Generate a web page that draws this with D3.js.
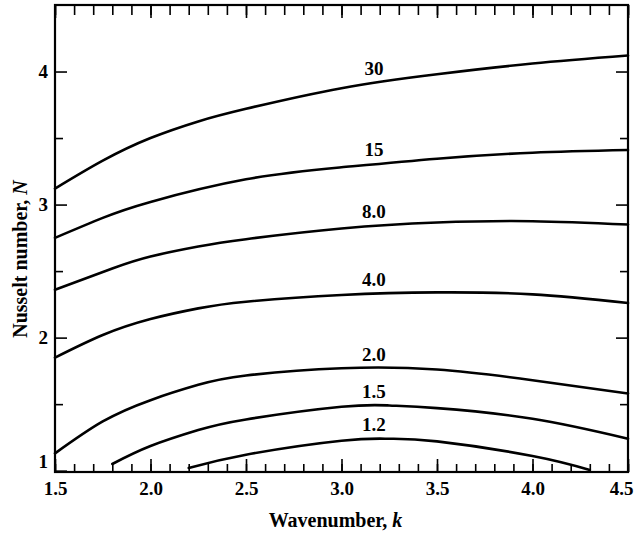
<!DOCTYPE html>
<html>
<head>
<meta charset="utf-8">
<script src="https://cdn.jsdelivr.net/npm/d3@7"></script>
<style>
  body { margin: 0; background: #fff; }
  svg text { font-family: "Liberation Serif", "DejaVu Serif", serif; fill: #000; }
  .axis path { display: none; }
  .axis line { stroke: #000; stroke-width: 1.6; }
</style>
</head>
<body>
<div id="chart"></div>
<script>
// curve labels (parameter values written on each curve)
const curveLabels = ["30", "15", "8.0", "4.0", "2.0", "1.5", "1.2"];

// wavenumber k and Nusselt number N
const k30 = [1.5, 1.75, 2.0, 2.25, 2.5, 3.0, 3.5, 4.0, 4.5];
const n30 = [3.12, 3.33, 3.50, 3.625, 3.72, 3.875, 3.98, 4.06, 4.12];

const k15 = [1.5, 1.75, 2.0, 2.5, 3.0, 3.5, 4.0, 4.5];
const n15 = [2.75, 2.90, 3.02, 3.19, 3.28, 3.345, 3.39, 3.41];

const k8 = [1.5, 1.8, 2.0, 2.25, 2.5, 3.0, 3.5, 4.0, 4.5];
const n8 = [2.36, 2.52, 2.61, 2.685, 2.74, 2.82, 2.865, 2.875, 2.85];

const k4 = [1.5, 1.75, 2.0, 2.25, 2.5, 3.0, 3.5, 4.0, 4.5];
const n4 = [1.85, 2.02, 2.14, 2.22, 2.27, 2.32, 2.34, 2.325, 2.26];

const k2 = [1.5, 1.75, 2.0, 2.25, 2.5, 3.0, 3.5, 4.0, 4.5];
const n2 = [1.13, 1.37, 1.53, 1.645, 1.715, 1.77, 1.76, 1.68, 1.58];

const k15b = [1.8, 2.0, 2.25, 2.5, 3.0, 3.25, 3.5, 4.0, 4.5];
const n15b = [1.05, 1.185, 1.305, 1.385, 1.48, 1.49, 1.47, 1.39, 1.24];

const k12 = [2.2, 2.5, 3.0, 3.25, 3.5, 4.0, 4.3];
const n12 = [1.02, 1.12, 1.225, 1.24, 1.22, 1.11, 1.005];

// tick values
const xMajorTicks = [1.5, 2.0, 2.5, 3.0, 3.5, 4.0, 4.5];
const yMajorTicks = [1, 2, 3, 4];
const yMinorTicks = [1.5, 2.5, 3.5];

// k position where the labels sit
const labelK = 3.17;

function drawChart() {
    // set dimensions and margins
    const margin = {top: 5, right: 8, bottom: 63, left: 55};
    const width = 636 - margin.left - margin.right;
    const height = 535 - margin.top - margin.bottom;

    const svg = d3.select("#chart")
        .append("svg")
        .attr("width", 636)
        .attr("height", 535)
        .append("g")
        .attr("transform", "translate(" + margin.left + "," + margin.top + ")");

    const x = d3.scaleLinear().domain([1.5, 4.5]).range([0, width]);
    const y = d3.scaleLinear().domain([0.99, 4.5]).range([height, 0]);

    const xMinorTicks = d3.range(15, 46).map(d => d / 10);

    // bottom axis: minor then major ticks, pointing inward
    svg.append("g").attr("class", "axis")
        .attr("transform", "translate(0," + height + ")")
        .call(d3.axisBottom(x).tickValues(xMinorTicks).tickSize(-8).tickFormat(""));
    const xAxis = svg.append("g").attr("class", "axis")
        .attr("transform", "translate(0," + height + ")")
        .call(d3.axisBottom(x).tickValues(xMajorTicks).tickSize(-13).tickPadding(10).tickFormat(d3.format(".1f")));
    xAxis.selectAll("text")
        .style("font-size", "19px")
        .style("font-weight", "bold")
        .attr("dx", d => d === 4.5 ? -7 : 0);

    // top axis
    svg.append("g").attr("class", "axis")
        .call(d3.axisTop(x).tickValues(xMinorTicks).tickSize(-10).tickFormat(""));
    svg.append("g").attr("class", "axis")
        .call(d3.axisTop(x).tickValues(xMajorTicks).tickSize(-13).tickFormat(""));

    // left axis
    svg.append("g").attr("class", "axis")
        .call(d3.axisLeft(y).tickValues(yMinorTicks).tickSize(-8).tickFormat(""));
    const yAxis = svg.append("g").attr("class", "axis")
        .call(d3.axisLeft(y).tickValues(yMajorTicks).tickSize(-12).tickPadding(7).tickFormat(d3.format("d")));
    yAxis.selectAll("text")
        .style("font-size", "19px")
        .style("font-weight", "bold")
        .attr("dy", d => d === 1 ? "-0.15em" : "0.32em");

    // right axis
    svg.append("g").attr("class", "axis")
        .attr("transform", "translate(" + width + ",0)")
        .call(d3.axisRight(y).tickValues(yMinorTicks).tickSize(-8).tickFormat(""));
    svg.append("g").attr("class", "axis")
        .attr("transform", "translate(" + width + ",0)")
        .call(d3.axisRight(y).tickValues(yMajorTicks.filter(d => d > 1)).tickSize(-12).tickFormat(""));

    // frame
    svg.append("rect")
        .attr("width", width)
        .attr("height", height)
        .attr("fill", "none")
        .attr("stroke", "#000")
        .attr("stroke-width", 2.2);

    // curves
    const curves = [
        [k30, n30], [k15, n15], [k8, n8], [k4, n4], [k2, n2], [k15b, n15b], [k12, n12]
    ].map(([ks, ns], i) => ({
        label: curveLabels[i],
        points: ks.map((k, j) => [k, ns[j]])
    }));

    const line = d3.line()
        .x(d => x(d[0]))
        .y(d => y(d[1]))
        .curve(d3.curveNatural);

    svg.append("g")
        .selectAll("path")
        .data(curves)
        .join("path")
        .attr("d", d => line(d.points))
        .attr("fill", "none")
        .attr("stroke", "#000")
        .attr("stroke-width", 2.6)
        .attr("stroke-linecap", "round");

    // curve labels
    svg.append("g")
        .selectAll("text")
        .data(curves)
        .join("text")
        .attr("x", x(labelK))
        .attr("y", d => {
            const interp = d3.scaleLinear()
                .domain(d.points.map(p => p[0]))
                .range(d.points.map(p => p[1]));
            return y(interp(labelK)) - 8;
        })
        .attr("text-anchor", "middle")
        .style("font-size", "19px")
        .style("font-weight", "bold")
        .text(d => d.label);

    // x axis title
    const xTitle = svg.append("text")
        .attr("x", width / 2 - 6)
        .attr("y", height + 55)
        .attr("text-anchor", "middle")
        .style("font-size", "20px")
        .style("font-weight", "bold");
    xTitle.append("tspan").text("Wavenumber, ");
    xTitle.append("tspan").style("font-style", "italic").text("k");

    // y axis title
    const yTitle = svg.append("text")
        .attr("transform", "rotate(-90)")
        .attr("x", -(259 - margin.top))
        .attr("y", -28)
        .attr("text-anchor", "middle")
        .style("font-size", "20px")
        .style("font-weight", "bold");
    yTitle.append("tspan").text("Nusselt number, ");
    yTitle.append("tspan").style("font-style", "italic").text("N");
}

drawChart();
</script>
</body>
</html>
